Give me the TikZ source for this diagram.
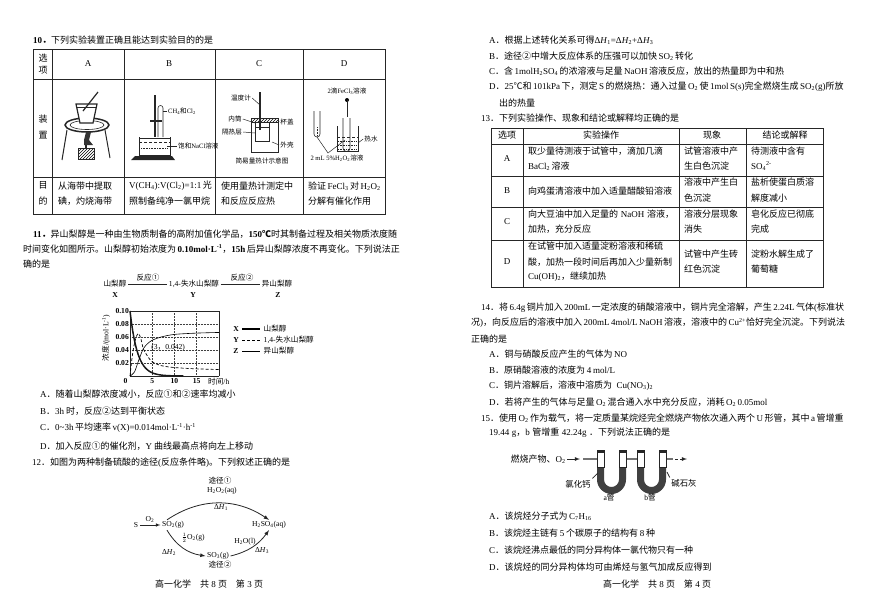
\documentclass[tikz,border=0pt]{standalone}
\usepackage{fontspec}
\usetikzlibrary{patterns}
\setmainfont{Liberation Serif}
\newfontfamily\cjkfont{Noto Sans CJK SC}
% chinese characters switch to the cjk font by themselves
\XeTeXinterchartokenstate=1
\newXeTeXintercharclass\cjkclass
\makeatletter
\newcommand\setcjkrange[2]{\count@=#1
  \loop\XeTeXcharclass\count@=\cjkclass\ifnum\count@<#2\advance\count@ 1 \repeat}
\makeatother
\setcjkrange{"4E00}{"9FFF}
\setcjkrange{"3000}{"303F}
\setcjkrange{"FF00}{"FFEF}
\setcjkrange{"2460}{"2473}
\setcjkrange{"2103}{"2103}
\XeTeXinterchartoks 0 \cjkclass={\cjkfont}
\XeTeXinterchartoks 4095 \cjkclass={\cjkfont}
\XeTeXinterchartoks \cjkclass 0={\rmfamily}
\XeTeXinterchartoks \cjkclass 4095={\rmfamily}
\XeTeXinterchartoks 4095 0={\rmfamily}
\XeTeXlinebreaklocale "zh"
\XeTeXlinebreakskip=0pt plus 3pt minus 1pt
\newcommand\dn[1]{\textsubscript{#1}}
\newcommand\up[1]{\textsuperscript{#1}}
\newcommand\enth[1]{Δ\textit{H}\dn{#1}}

\begin{document}
\begin{tikzpicture}[
		x=1pt,y=-1pt,
		txtline/.style={anchor=west,inner sep=0pt,font=\fontsize{9}{9}\selectfont},
		cellc/.style={inner sep=0pt,font=\fontsize{9}{9}\selectfont},
		smalltxt/.style={inner sep=1pt,font=\fontsize{6.6}{7}\selectfont},
		chem/.style={inner sep=1.5pt,font=\fontsize{7.6}{8}\selectfont},
		tabline/.style={line width=0.8pt,black!85},
		part/.style={line width=0.6pt,black!85},
		lead/.style={line width=0.5pt,black!85},
		gridline/.style={densely dotted,line width=0.5pt,black!75},
		tube/.style={line width=2pt,black!55}
		]
		\useasboundingbox (0,0) rectangle (870,611);
		
		% text lines of both pages
		\foreach \nm/\xx/\yy/\ww/\txt in {
			q10/33/40/179/{\textbf{10．}下列实验装置正确且能达到实验目的的是},
			qa1/58/186/53/{从海带中提取},
			qa2/58/201/53/{碘，灼烧海带},
			qb1/129/186/80/{V(CH\dn{4}):V(Cl\dn{2})=1:1 光},
			qb2/129/201/80/{照制备纯净一氯甲烷},
			qc1/221/186/71/{使用量热计测定中},
			qc2/221/201/52/{和反应反应热},
			qd1/308/186/72/{验证 FeCl\dn{3} 对 H\dn{2}O\dn{2}},
			qd2/308/201/63/{分解有催化作用},
			q11/33/234/362/{\textbf{11．}异山梨醇是一种由生物质制备的高附加值化学品，\textbf{150℃}时其制备过程及相关物质浓度随},
			q11b/23/249/372/{时间变化如图所示。山梨醇初始浓度为 \textbf{0.10mol·L\up{-1}}，\textbf{15h} 后异山梨醇浓度不再变化。下列说法正},
			q11c/23/264/26/{确的是},
			o11a/40/394/195/{A．随着山梨醇浓度减小，反应①和②速率均减小},
			o11b/40/411/125/{B．3h 时，反应②达到平衡状态},
			o11c/40/428/155/{C．0\textasciitilde3h 平均速率 v(X)=0.014mol·L\up{-1}·h\up{-1}},
			o11d/40/446/213/{D．加入反应①的催化剂，Y 曲线最高点将向左上移动},
			q12/32/463/256/{12．如图为两种制备硫酸的途径(反应条件略)。下列叙述正确的是},
			o12a/489/40/161/{A．根据上述转化关系可得\enth{1}=\enth{2}+\enth{3}},
			o12b/489/56/203/{B．途径②中增大反应体系的压强可以加快 SO\dn{2} 转化},
			o12c/489/71/294/{C．含 1molH\dn{2}SO\dn{4} 的浓溶液与足量 NaOH 溶液反应，放出的热量即为中和热},
			o12d/489/87/354/{D．25℃和 101kPa 下，测定 S 的燃烧热：通入过量 O\dn{2} 使 1mol S(s)完全燃烧生成 SO\dn{2}(g)所放},
			o12e/499/103/35/{出的热量},
			q13/481/118/196/{13．下列实验操作、现象和结论或解释均正确的是},
			ra1/528/151/146/{取少量待测液于试管中，滴加几滴},
			ra2/528/166/40/{BaCl\dn{2} 溶液},
			rb1/528/191/144/{向鸡蛋清溶液中加入适量醋酸铅溶液},
			rc1/528/214/146/{向大豆油中加入足量的 NaOH 溶液，},
			rc2/528/229/63/{加热，充分反应},
			rd1/528/246/146/{在试管中加入适量淀粉溶液和稀硫},
			rd2/528/262/146/{酸，加热一段时间后再加入少量新制},
			rd3/528/277/77/{Cu(OH)\dn{2}，继续加热},
			sa1/684/151/53/{试管溶液中产},
			sa2/684/166/44/{生白色沉淀},
			sb1/684/182/53/{溶液中产生白},
			sb2/684/198/26/{色沉淀},
			sc1/684/214/53/{溶液分层现象},
			sc2/684/229/17/{消失},
			sd1/684/254/53/{试管中产生砖},
			sd2/684/269/35/{红色沉淀},
			ta1/751/151/67/{待测液中含有},
			ta2/751/166/20/{SO\dn{4}\up{2-}},
			tb1/751/182/67/{盐析使蛋白质溶},
			tb2/751/198/36/{解度减小},
			tc1/751/214/67/{皂化反应已彻底},
			tc2/751/229/18/{完成},
			td1/751/254/67/{淀粉水解生成了},
			td2/751/269/27/{葡萄糖},
			q14/481/308/362/{14．将 6.4g 铜片加入 200mL 一定浓度的硝酸溶液中，铜片完全溶解，产生 2.24L 气体(标准状},
			q14b/471/323/372/{况)，向反应后的溶液中加入 200mL 4mol/L NaOH 溶液，溶液中的 Cu\up{2+}恰好完全沉淀。下列说法},
			q14c/471/339/35/{正确的是},
			o14a/489/354/138/{A．铜与硝酸反应产生的气体为 NO},
			o14b/489/370/126/{B．原硝酸溶液的浓度为 4 mol/L},
			o14c/489/386/164/{C．铜片溶解后，溶液中溶质为 Cu(NO\dn{3})\dn{2}},
			o14d/489/402/277/{D．若将产生的气体与足量 O\dn{2} 混合通入水中充分反应，消耗 O\dn{2} 0.05mol},
			q15/481/418/362/{15．使用 O\dn{2} 作为载气，将一定质量某烷烃完全燃烧产物依次通入两个 U 形管，其中 a 管增重},
			q15b/489/433/181/{19.44 g，b 管增重 42.24g ．下列说法正确的是},
			o15a/489/516/101/{A．该烷烃分子式为 C\dn{7}H\dn{16}},
			o15b/489/533/166/{B．该烷烃主链有 5 个碳原子的结构有 8 种},
			o15c/489/550/202/{C．该烷烃沸点最低的同分异构体一氯代物只有一种},
			o15d/489/567/220/{D．该烷烃的同分异构体均可由烯烃与氢气加成反应得到}
		}
		\node[txtline] (\nm) at (\xx,\yy) {\makebox[\ww pt][s]{\txt}};
		
		% centred cell texts and footers
		\foreach \nm/\xx/\yy/\txt in {
			h1a/43/58/选, h1b/43/70/项, h1c/88/64/A, h1d/169/64/B, h1e/259/64/C, h1f/344/64/D,
			h2a/43/119/装, h2b/43/135/置, h3a/43/185/目, h3b/43/201/的,
			k1/507/135/选项, k2/601/135/实验操作, k3/712/135/现象, k4/785/135/结论或解释,
			k5/507/159/A, k6/507/191/B, k7/507/222/C, k8/507/262/D,
			foot1/209/584/高一化学\quad 共 8 页\quad 第 3 页, foot2/657/584/高一化学\quad 共 8 页\quad 第 4 页
		}
		\node[cellc] (\nm) at (\xx,\yy) {\txt};
		
		% table of question 10
		\draw[tabline] (33,49) rectangle (385,214);
		\foreach \yy in {79,177} \draw[tabline] (33,\yy) -- (385,\yy);
		\foreach \xx in {52,124,215,303} \draw[tabline] (\xx,49) -- (\xx,214);
		% table of question 13
		\draw[tabline] (491,128) rectangle (823,287);
		\foreach \yy in {144,176,207,240} \draw[tabline] (491,\yy) -- (823,\yy);
		\foreach \xx in {523,679,746} \draw[tabline] (\xx,128) -- (\xx,287);
		
		% apparatus A
		\draw[part,line width=1pt] (67,130) -- (62,160);
		\draw[part,line width=1pt] (105,130) -- (110,158);
		\draw[part,line width=1.5pt] (87,125) ellipse (22 and 7);
		\draw[part] (87,125) ellipse (17 and 4.5);
		\draw[part,line width=1.2pt,fill=white] (76,104) -- (97,104) -- (93,123) -- (80,123) -- cycle;
		\draw[part] (76,107) -- (96.4,107);
		\draw[part,line width=1.2pt] (98,92) -- (83,111);
		\fill[black!80] (86,132) -- (91,132) -- (89,140) -- (93,145) -- (84,145) -- (84,140) -- cycle;
		\draw[part,line width=1.2pt] (86,145) -- (86,148);
		\draw[part,pattern=north east lines] (78,148) rectangle (94,159);
		
		% apparatus B
		\draw[part,line width=1.2pt] (155,95) -- (155,137);
		\draw[part] (158,137) -- (158,108) arc (180:360:2.5) -- (163,137);
		\draw[part,line width=1.2pt] (150,121) -- (162,121);
		\draw[part] (139,137) -- (139,155) -- (170,155) -- (170,137);
		\draw[part] (139,138) -- (170,138);
		\draw[part,densely dashed] (139,142) -- (170,142);
		\draw[part,densely dotted] (141,148) -- (168,148);
		\fill[black!85] (131,160) -- (135,156) -- (172,156) -- (175,160) -- cycle;
		\node[smalltxt,anchor=west] (bgas) at (167,111) {CH\dn{4}和Cl\dn{2}};
		\node[smalltxt,anchor=west] (bsalt) at (177,146) {饱和NaCl溶液};
		\coordinate (bgasEnd) at (163,111);
		\coordinate (bsaltEnd) at (167,146);
		\draw[lead] (bgas.west) -- (bgasEnd);
		\draw[lead] (bsalt.west) -- (bsaltEnd);
		
		% apparatus C
		\draw[part] (251,122) rectangle (278,152);
		\draw[part,pattern=north east lines] (251,118) rectangle (278,122);
		\draw[part] (255,122) rectangle (269,141);
		\draw[part] (255,127) -- (269,127);
		\draw[part,line width=1.4pt] (260,92) -- (260,130);
		\node[smalltxt] (cterm) at (241,98) {温度计};
		\node[smalltxt] (cin) at (235,119) {内筒};
		\node[smalltxt] (cins) at (232,132) {隔热层};
		\node[smalltxt] (clid) at (287,122) {杯盖};
		\node[smalltxt] (cout) at (287,145) {外壳};
		\node[smalltxt] (ccap) at (262,161) {简易量热计示意图};
		\foreach \nm/\xx/\yy in {ctermEnd/260/105,cinEnd/255/123,cinsEnd/255/133,clidEnd/278/120,coutEnd/272/142} \coordinate (\nm) at (\xx,\yy);
		\draw[lead] (cterm.east) -- (ctermEnd);
		\draw[lead] (cin.east) -- (cinEnd);
		\draw[lead] (cins.east) -- (cinsEnd);
		\draw[lead] (clid.west) -- (clidEnd);
		\draw[lead] (cout.west) -- (coutEnd);
		
		% apparatus D
		\fill[black] (347,100) circle (2);
		\draw[part,line width=1pt] (347,100) -- (347,117);
		\draw[part] (343,118) -- (343,148) arc (180:0:3.5) -- (350,118);
		\draw[part] (337,126) -- (337,151) -- (358,151) -- (358,126);
		\draw[part,densely dashed,line width=0.9pt] (337,137) -- (358,137);
		\foreach \yy in {141,145,149} \draw[part,densely dotted,line width=0.9pt] (338,\yy) -- (357,\yy);
		\draw[part] (314,111) -- (314,134) arc (180:0:3) -- (320,111);
		\draw[part,densely dotted,line width=1pt] (317,127) -- (317,136);
		\node[smalltxt] (dfe) at (347,91) {2滴FeCl\dn{3}溶液};
		\node[smalltxt] (dh) at (337,158) {2 mL 5\%H\dn{2}O\dn{2}溶液};
		\node[smalltxt] (dhot) at (371,139) {热水};
		\foreach \nm/\xx/\yy in {dtube/317/137,dfork/328/153,dbeak/345/140,dhotEnd/358/143} \coordinate (\nm) at (\xx,\yy);
		\draw[lead] (dtube) -- (dfork) -- (dbeak);
		\draw[lead] (dhot.west) -- (dhotEnd);
		
		% reaction scheme of question 11
		\node[chem] (xname) at (115,284) {山梨醇};
		\node[chem] (yname) at (194,284) {1,4-失水山梨醇};
		\node[chem] (zname) at (277,284) {异山梨醇};
		\node[chem] (xlet) at (115,295) {\textbf{X}};
		\node[chem] (ylet) at (193,295) {\textbf{Y}};
		\node[chem] (zlet) at (278,295) {\textbf{Z}};
		\node[chem] (r1) at (148,278) {反应①};
		\node[chem] (r2) at (242,278) {反应②};
		\draw[part] (xname) -- (yname);
		\draw[part] (yname) -- (zname);
		
		% concentration plot
		\begin{scope}[shift={(130,376)},x=4.44pt,y=650pt]
			\foreach \xx in {5,10,15} \draw[gridline] (\xx,0) -- (\xx,0.1);
			\foreach \yy in {0.02,0.04,0.06,0.08} \draw[gridline] (0,\yy) -- (20,\yy);
			\draw[part] (20,0) -- (20,0.1) -- (0,0.1);
			\draw[part,line width=0.9pt] (0,0.1) -- (0,0) -- (20,0);
			\draw[line width=1.5pt,black!90] plot[domain=0:12,samples=40] (\x,{0.1*exp(-0.6*\x)});
			\draw[densely dashed,line width=0.7pt] plot[smooth] coordinates {(0,0) (0.5,0.03) (1,0.05) (1.5,0.062) (2,0.065) (2.5,0.056) (3,0.042) (4,0.03) (5,0.022) (7,0.016) (10,0.013) (15,0.011) (20,0.01)};
			\draw[line width=0.6pt] plot[smooth] coordinates {(0,0) (1,0.006) (2,0.025) (3,0.042) (4,0.05) (5,0.055) (7,0.06) (10,0.064) (15,0.066) (20,0.067)};
			\foreach \yy in {0.02,0.04,0.06,0.08,0.10} \node[chem,anchor=east,inner sep=1pt] (tick\yy) at (0,\yy) {\textbf{\yy}};
			\foreach \xx in {5,10,15} \node[chem,anchor=north,inner sep=1pt] (tick\xx) at (\xx,-0.002) {\textbf{\xx}};
			\node[chem,anchor=north east,inner sep=1pt] (tick0) at (-0.3,-0.002) {\textbf{0}};
			\node[chem,anchor=north,inner sep=1pt] (tickh) at (20,-0.002) {时间/h};
			\node[chem] (pt) at (8.6,0.044) {(3，0.042)};
		\end{scope}
		\node[chem,rotate=90] (ylab) at (106,338) {浓度/(mol·L\up{-1})};
		\node[chem] (lx) at (236,329) {\textbf{X}};
		\node[chem] (ly) at (236,340) {\textbf{Y}};
		\node[chem] (lz) at (236,351) {\textbf{Z}};
		\node[chem,anchor=west] (lxt) at (262,329) {山梨醇};
		\node[chem,anchor=west] (lyt) at (262,340) {1,4-失水山梨醇};
		\node[chem,anchor=west] (lzt) at (262,351) {异山梨醇};
		\draw[line width=1.5pt,shorten <=2pt,shorten >=2pt] (lx) -- (lxt);
		\draw[densely dashed,line width=0.7pt,shorten <=2pt,shorten >=2pt] (ly) -- (lyt);
		\draw[line width=0.6pt,shorten <=2pt,shorten >=2pt] (lz) -- (lzt);
		
		% two routes of question 12
		\node[chem] (sul) at (136,525) {S};
		\node[chem] (so2) at (173,525) {SO\dn{2}(g)};
		\node[chem] (so3) at (218,556) {SO\dn{3}(g)};
		\node[chem] (acid) at (269,525) {H\dn{2}SO\dn{4}(aq)};
		\node[chem] (o2) at (150,519) {O\dn{2}};
		\node[chem] (way1) at (220,481) {途径①};
		\node[chem] (h2o2) at (222,491) {H\dn{2}O\dn{2}(aq)};
		\node[chem] (dh1) at (221,507) {\enth{1}};
		\node[chem] (half) at (193,538) {$\frac{1}{2}$O\dn{2}(g)};
		\node[chem] (dh2) at (169,552) {\enth{2}};
		\node[chem] (way2) at (220,565) {途径②};
		\node[chem] (h2o) at (245,542) {H\dn{2}O(l)};
		\node[chem] (dh3) at (262,551) {\enth{3}};
		\draw[part,-latex] (sul) -- (so2);
		\draw[part,line width=0.8pt,-latex] ([xshift=-6pt]so2.north) to[bend left=34] (acid.north);
		\draw[part,line width=0.8pt,-latex] ([xshift=-6pt]so2.south) to[bend right=25] (so3.west);
		\draw[part,line width=0.8pt,-latex] (so3.east) to[bend right=20] (acid.south);
		
		% U tubes of question 15
		\draw[tube] (583,459) -- (597,459);
		\draw[tube] (626,459) -- (637,459);
		\draw[tube] (666,459) -- (673,459);
		\foreach \ux in {611.5,651.5} {
			\fill[black!75] (\ux-14.5,467) -- (\ux-14.5,479.5) arc (180:0:14.5) -- (\ux+14.5,467) -- (\ux+7.5,467) -- (\ux+7.5,479.5) arc (0:180:7.5) -- (\ux-7.5,467) -- cycle;
			\foreach \sx in {-14.5,7.5} {
				\draw[part,fill=white] (\ux+\sx,452) rectangle (\ux+\sx+7,467);
				\fill[black!85] (\ux+\sx-0.5,450) rectangle (\ux+\sx+7.5,453);
			}
		}
		\node[chem,anchor=west] (prod) at (509,459) {\fontsize{9}{9}\selectfont 燃烧产物、O\dn{2}};
		\node[chem] (cacl) at (578,484) {\fontsize{8.4}{9}\selectfont 氯化钙};
		\node[chem] (soda) at (684,483) {\fontsize{8.4}{9}\selectfont 碱石灰};
		\node[chem] (atube) at (609,498) {a管};
		\node[chem] (btube) at (650,498) {b管};
		\foreach \nm/\xx/\yy in {inArrow/580/459,caclEnd/598/473,sodaEnd/667/472,outStart/675/459,outEnd/687/459} \coordinate (\nm) at (\xx,\yy);
		\draw[part,line width=0.8pt,-latex] (prod.east) -- (inArrow);
		\draw[lead,line width=0.7pt] (cacl.north east) -- (caclEnd);
		\draw[lead,line width=0.7pt] (soda.north west) -- (sodaEnd);
		\draw[part,densely dashed,line width=0.8pt,-latex] (outStart) -- (outEnd);
	\end{tikzpicture}
\end{document}
